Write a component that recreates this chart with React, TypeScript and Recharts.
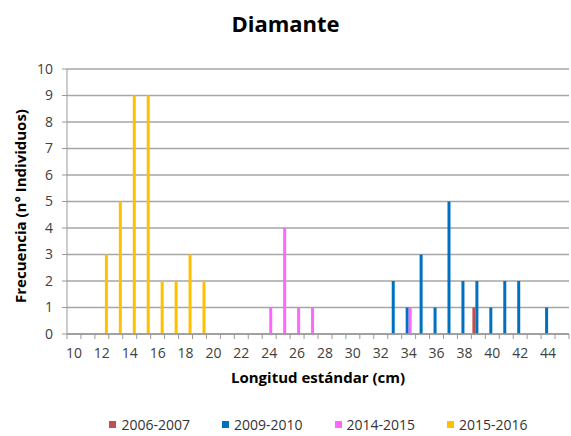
import React from "react";
import { BarChart, Bar, XAxis, YAxis, CartesianGrid, Legend, Label } from "recharts";

const lengths = [
    10, 11, 12, 13, 14, 15, 16, 17, 18, 19, 20, 21, 22, 23, 24, 25, 26, 27,
    28, 29, 30, 31, 32, 33, 34, 35, 36, 37, 38, 39, 40, 41, 42, 43, 44, 45,
];

// one value per length, 10..45 cm
const s2006 = [0, 0, 0, 0, 0, 0, 0, 0, 0, 0, 0, 0, 0, 0, 0, 0, 0, 0, 0, 0, 0, 0, 0, 0, 0, 0, 0, 0, 0, 1, 0, 0, 0, 0, 0, 0];
const s2009 = [0, 0, 0, 0, 0, 0, 0, 0, 0, 0, 0, 0, 0, 0, 0, 0, 0, 0, 0, 0, 0, 0, 0, 2, 1, 3, 1, 5, 2, 2, 1, 2, 2, 0, 1, 0];
const s2014 = [0, 0, 0, 0, 0, 0, 0, 0, 0, 0, 0, 0, 0, 0, 1, 4, 1, 1, 0, 0, 0, 0, 0, 0, 1, 0, 0, 0, 0, 0, 0, 0, 0, 0, 0, 0];
const s2015 = [0, 0, 3, 5, 9, 9, 2, 2, 3, 2, 0, 0, 0, 0, 0, 0, 0, 0, 0, 0, 0, 0, 0, 0, 0, 0, 0, 0, 0, 0, 0, 0, 0, 0, 0, 0];

const yTicks = [0, 1, 2, 3, 4, 5, 6, 7, 8, 9, 10];

const series = [
    { key: "s2006", name: "2006-2007", color: "#C0504D" },
    { key: "s2009", name: "2009-2010", color: "#0070C0" },
    { key: "s2014", name: "2014-2015", color: "#FF66FF" },
    { key: "s2015", name: "2015-2016", color: "#FFC000" },
];

const data = lengths.map((len, i) => ({
    len,
    s2006: s2006[i],
    s2009: s2009[i],
    s2014: s2014[i],
    s2015: s2015[i],
}));

const font = "'Open Sans', sans-serif";

// excel-style: tick marks on category boundaries, label every other category
const XTick = (props: any) => {
    const { x, y, payload, index } = props;
    const half = payload.offset ?? 0;
    const last = index === lengths.length - 1;
    return (
        <g>
            <line x1={x - half} x2={x - half} y1={y} y2={y + 5} stroke="#999" />
            {last && <line x1={x + half} x2={x + half} y1={y} y2={y + 5} stroke="#999" />}
            {index % 2 === 0 && (
                <text x={x} y={y + 14} dy="0.71em" textAnchor="middle" fill="#404040" fontSize={14} fontFamily={font}>
                    {payload.value}
                </text>
            )}
        </g>
    );
};

const renderLegend = () => (
    <div style={{ display: "flex", justifyContent: "center", paddingLeft: 100, paddingTop: 4, fontFamily: font, fontSize: 14, color: "#333" }}>
        {series.map((s) => (
            <div key={s.key} style={{ display: "flex", alignItems: "center", marginRight: 32 }}>
                <span style={{ width: 7, height: 7, background: s.color, marginRight: 5, display: "inline-block" }} />
                {s.name}
            </div>
        ))}
    </div>
);

const YLabel = () => (
    <text
        x={20}
        y={206}
        transform="rotate(-90 20 206)"
        textAnchor="middle"
        dominantBaseline="central"
        style={{ fill: "#000", fontSize: 15, fontWeight: 700, fontFamily: font }}
    >
        Frecuencia (n° Individuos)
    </text>
);

const App: React.FC = () => {
    return (
        <div style={{ position: "absolute", left: 0, top: 0, width: 571, height: 436, background: "#fff" }}>
            <div
                style={{
                    position: "absolute",
                    top: 8,
                    width: 571,
                    textAlign: "center",
                    fontFamily: font,
                    fontWeight: 700,
                    fontSize: 22,
                    color: "#000",
                }}
            >
                Diamante
            </div>
            <BarChart
                width={571}
                height={436}
                data={data}
                margin={{ top: 69, right: 2, left: 0, bottom: 1 }}
                barGap={0}
                barCategoryGap={1}
            >
                <CartesianGrid vertical={false} stroke="#a6a6a6" strokeWidth={1.5} />
                <XAxis
                    dataKey="len"
                    interval={0}
                    height={77}
                    tickLine={false}
                    tickSize={0}
                    tickMargin={0}
                    stroke="#999"
                    strokeWidth={1.5}
                    tick={<XTick />}
                >
                    <Label
                        value="Longitud estándar (cm)"
                        position="insideBottom"
                        offset={28}
                        style={{ fill: "#000", fontSize: 15, fontWeight: 700, fontFamily: font }}
                    />
                </XAxis>
                <YAxis
                    domain={[0, 10]}
                    ticks={yTicks}
                    width={67}
                    tickSize={5}
                    tickMargin={9}
                    stroke="#999"
                    tick={{ fill: "#404040", fontSize: 14, fontFamily: font }}
                />
                <Legend verticalAlign="bottom" height={24} content={renderLegend} />
                {series.map((s) => (
                    <Bar
                        key={s.key}
                        dataKey={s.key}
                        name={s.name}
                        fill={s.color}
                        barSize={3}
                        isAnimationActive={false}
                    />
                ))}
                <YLabel />
            </BarChart>
        </div>
    );
};

export default App;
